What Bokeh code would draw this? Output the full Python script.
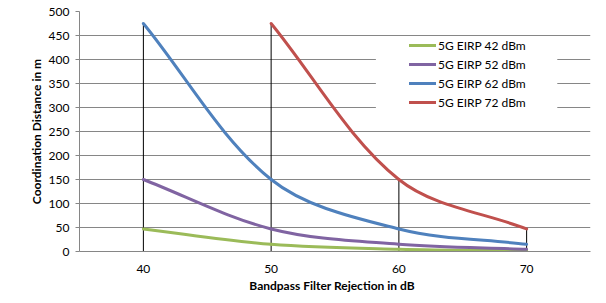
import math
from bokeh.plotting import figure
from bokeh.models import Range1d, Legend, LegendItem, FixedTicker, BoxAnnotation
from bokeh.embed import file_html
from bokeh.resources import INLINE

# ---- data -------------------------------------------------------------
rejection_db = [40, 50, 60, 70]
eirp_42 = [47, 15, 4.7, 1.5]
eirp_52 = [150, 47, 15, 4.7]
eirp_62 = [475, 150, 47, 15]
eirp_72 = [None, 475, 150, 47]
series_values = [eirp_42, eirp_52, eirp_62, eirp_72]
series_labels = ["5G EIRP 42 dBm", "5G EIRP 52 dBm", "5G EIRP 62 dBm", "5G EIRP 72 dBm"]
series_colors = ["#9BBB59", "#8064A2", "#4F81BD", "#C0504D"]
y_ticks = [0, 50, 100, 150, 200, 250, 300, 350, 400, 450, 500]
x_ticks = [40, 50, 60, 70]

FONT = "Lato"

p = figure(width=598, height=295, x_range=Range1d(35, 75), y_range=Range1d(0, 500),
           min_border_left=79, min_border_right=8, min_border_top=11, min_border_bottom=40,
           output_backend="svg", toolbar_location=None)
p.outline_line_color = None
p.background_fill_color = "white"

# grid
p.xgrid.grid_line_color = None
p.ygrid.grid_line_color = "#868686"
p.ygrid.ticker = FixedTicker(ticks=y_ticks)

# axes
p.yaxis.ticker = FixedTicker(ticks=y_ticks)
p.xaxis.ticker = FixedTicker(ticks=x_ticks)
for ax in (p.xaxis[0], p.yaxis[0]):
    ax.axis_line_color = "#868686"
    ax.major_tick_line_color = "#868686"
    ax.minor_tick_line_color = None
    ax.major_label_text_font = FONT
    ax.major_label_text_font_size = "12px"
    ax.major_label_text_color = "black"
    ax.axis_label_text_font = FONT
    ax.axis_label_text_font_size = "12px"
    ax.axis_label_text_font_style = "bold"
    ax.axis_label_text_color = "black"
p.yaxis.major_tick_in = 0
p.yaxis.major_tick_out = 4
p.yaxis.major_label_standoff = 6
p.yaxis.axis_label = "Coordination Distance in m"
p.yaxis.axis_label_standoff = 2
p.xaxis.major_tick_in = 0
p.xaxis.major_tick_out = 0
p.xaxis.major_label_standoff = 13
p.xaxis.axis_label = "Bandpass  Filter Rejection  in dB"
p.xaxis.axis_label_standoff = 2

# legend backdrop (hides gridlines behind the legend)
p.add_layout(BoxAnnotation(left=58.2, right=72.4, bottom=288, top=445,
                           fill_color="white", fill_alpha=1, line_color=None))

# drop lines at each category to the highest value
for i, x in enumerate(rejection_db):
    top = max(s[i] for s in series_values if s[i] is not None)
    p.segment(x0=[x], y0=[0], x1=[x], y1=[top], line_color="black", line_width=1)

# smoothed lines (Excel-like Bezier smoothing, computed in screen proportions)
SX = 511 / 40.0
SY = 244 / 500.0

def smooth(xs, ys):
    pts = [(x * SX, y * SY) for x, y in zip(xs, ys) if y is not None]
    n = len(pts)
    seg = dict(x0=[], y0=[], x1=[], y1=[], cx0=[], cy0=[], cx1=[], cy1=[])
    for i in range(n - 1):
        p0 = pts[max(i - 1, 0)]
        p1 = pts[i]
        p2 = pts[i + 1]
        p3 = pts[min(i + 2, n - 1)]
        d01 = math.dist(p0, p1)
        d12 = math.dist(p1, p2)
        d23 = math.dist(p2, p3)
        f1 = d12 / (d01 + d12) / 3.0
        f2 = d12 / (d12 + d23) / 3.0
        c1 = (p1[0] + (p2[0] - p0[0]) * f1, p1[1] + (p2[1] - p0[1]) * f1)
        c2 = (p2[0] - (p3[0] - p1[0]) * f2, p2[1] - (p3[1] - p1[1]) * f2)
        seg["x0"].append(p1[0] / SX); seg["y0"].append(p1[1] / SY)
        seg["x1"].append(p2[0] / SX); seg["y1"].append(p2[1] / SY)
        seg["cx0"].append(c1[0] / SX); seg["cy0"].append(c1[1] / SY)
        seg["cx1"].append(c2[0] / SX); seg["cy1"].append(c2[1] / SY)
    return seg

items = []
for vals, label, color in zip(series_values, series_labels, series_colors):
    s = smooth(rejection_db, vals)
    r = p.bezier(line_color=color, line_width=3, line_cap="round", **s)
    items.append(LegendItem(label=label, renderers=[r], index=0))

legend = Legend(items=items, location=(330, 140))
legend.background_fill_alpha = 0
legend.border_line_color = None
legend.padding = 2
legend.margin = 0
legend.spacing = 1
legend.glyph_width = 27
legend.glyph_height = 18
legend.label_height = 18
legend.label_standoff = 2
legend.label_text_font = FONT
legend.label_text_font_size = "12px"
legend.label_text_color = "black"
p.add_layout(legend)

open("out.html", "w").write(file_html(p, INLINE))
